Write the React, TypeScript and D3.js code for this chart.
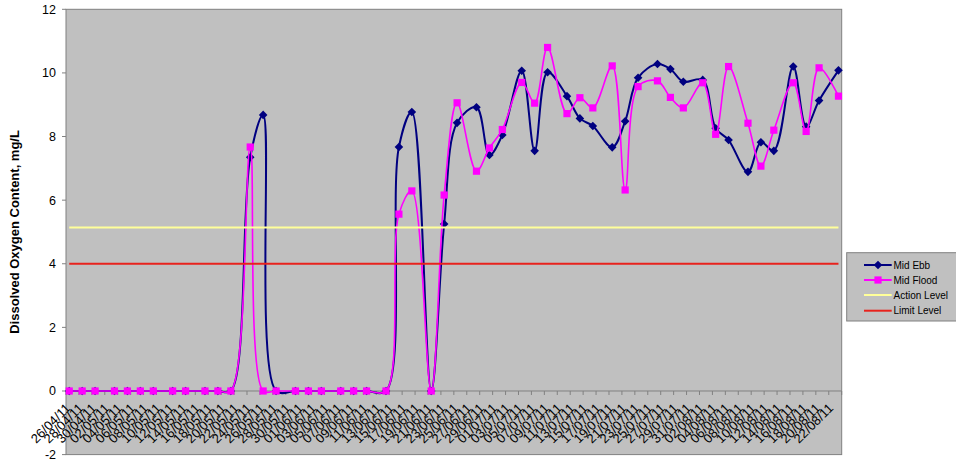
import React from 'react';
import * as d3 from 'd3';

const dates = [
  "26/04/11","28/04/11","30/04/11","03/05/11","05/05/11","07/05/11","09/05/11","12/05/11","14/05/11","17/05/11","19/05/11","21/05/11",
  "24/05/11","26/05/11","28/05/11","31/05/11","02/06/11","04/06/11","07/06/11","09/06/11","11/06/11","14/06/11",
  "16/06/11","18/06/11","21/06/11","23/06/11","25/06/11","28/06/11","30/06/11","02/07/11",
  "05/07/11","07/07/11","09/07/11","12/07/11","14/07/11","16/07/11","19/07/11","21/07/11","23/07/11",
  "26/07/11","28/07/11","30/07/11","02/08/11","04/08/11","06/08/11","09/08/11","11/08/11","13/08/11",
  "16/08/11","18/08/11","20/08/11","23/08/11"
];

const midEbb = [
  0,0,0,0,0,0,0,0,0,0,0,0,
  7.35,8.68,0,0,0,0,0,0,0,0,
  7.67,8.77,0,5.25,8.43,8.92,7.42,8.05,
  10.07,7.55,10.02,9.27,8.57,8.33,7.66,8.48,9.85,
  10.28,10.12,9.72,9.78,8.26,7.89,6.89,7.82,7.55,
  10.2,8.31,9.13,10.08
];

const midFlood = [
  0,0,0,0,0,0,0,0,0,0,0,0,
  7.67,0,0,0,0,0,0,0,0,0,
  5.56,6.29,0,6.16,9.06,6.91,7.64,8.22,
  9.70,9.05,10.80,8.72,9.22,8.90,10.22,6.32,9.57,
  9.75,9.23,8.90,9.69,8.07,10.2,8.42,7.07,8.2,
  9.69,8.16,10.16,9.27
];

const actionLevel = 5.14;
const limitLevel = 4;

const yTicks = [-2, 0, 2, 4, 6, 8, 10, 12];
const legendLabels = ["Mid Ebb", "Mid Flood", "Action Level", "Limit Level"];
const yTitle = "Dissolved Oxygen Content, mg/L";

const FONT = "'Liberation Sans', Arial, sans-serif";

export default function App() {
  const W = 956, H = 460;
  const left = 66, right = 841.7, top = 9.3, bottom = 454.6;
  const parse = d3.utcParse("%d/%m/%y");
  const fmt = d3.utcFormat("%d/%m/%y");
  const dts = dates.map(s => parse(s) as Date);
  const first = dts[0];
  const last = dts[dts.length - 1];
  const halfDay = 12 * 3600 * 1000;
  const x = d3.scaleUtc()
    .domain([new Date(+first - halfDay), new Date(+last + halfDay)])
    .range([left, right]);
  const y = d3.scaleLinear().domain([-2, 12]).range([bottom, top]);

  const labelDays = d3.utcDay.range(first, new Date(+last + 1), 2);
  const tickTimes = d3.range(0, labelDays.length + 1).map(i => new Date(+first - halfDay + i * 4 * halfDay));

  const ebbData = dts.map((d, i) => ({ d, v: midEbb[i] }));
  const floodData = dts.map((d, i) => ({ d, v: midFlood[i] }));
  const line = d3.line<{ d: Date; v: number }>()
    .x(p => x(p.d)).y(p => y(p.v))
    .curve(d3.curveCatmullRom.alpha(0.5));

  const y0 = y(0);
  const navy = "#000080";
  const magenta = "#FF00FF";
  const yellow = "#FFFF99";
  const red = "#E8221C";

  const diamond = (cx: number, cy: number, r: number) =>
    `M${cx},${cy - r}L${cx + r},${cy}L${cx},${cy + r}L${cx - r},${cy}Z`;

  const legY = [265, 280, 295, 310.7];
  const legColors = [navy, magenta, yellow, red];

  return (
    <svg width={W} height={H} style={{ position: 'absolute', left: 0, top: 0, background: '#fff' }} fontFamily={FONT}>
      <rect x={0} y={0} width={W} height={H} fill="#fff" />
      <rect x={left} y={top} width={right - left} height={bottom - top} fill="#C0C0C0" stroke="#808080" strokeWidth={1} />

      {yTicks.map(t => (
        <g key={t}>
          <line x1={left - 4} x2={left} y1={y(t)} y2={y(t)} stroke="#808080" />
          <text x={56} y={y(t)} dy="0.35em" textAnchor="end" fontSize={12.5} fill="#000">{t}</text>
        </g>
      ))}
      <text transform={`translate(19,${(top + bottom) / 2}) rotate(-90)`} textAnchor="middle" fontSize={13} fontWeight="bold" fill="#000">{yTitle}</text>

      <line x1={left} x2={right} y1={y0} y2={y0} stroke="#808080" />
      {tickTimes.map((t, i) => (
        <line key={i} x1={x(t)} x2={x(t)} y1={y0} y2={y0 + 4} stroke="#808080" />
      ))}
      {labelDays.map((d, i) => (
        <text key={i} transform={`translate(${x(d) + 2},${y0 + 18}) rotate(-45)`} textAnchor="end" fontSize={13} fill="#000">{fmt(d)}</text>
      ))}

      <path d={line(ebbData) || ""} fill="none" stroke={navy} strokeWidth={2} />
      {ebbData.map((p, i) => (
        <path key={i} d={diamond(x(p.d), y(p.v), 4.3)} fill={navy} />
      ))}
      <path d={line(floodData) || ""} fill="none" stroke={magenta} strokeWidth={1.6} />
      {floodData.map((p, i) => (
        <rect key={i} x={x(p.d) - 3.6} y={y(p.v) - 3.6} width={7.2} height={7.2} fill={magenta} />
      ))}

      <line x1={x(first)} x2={x(last)} y1={y(actionLevel)} y2={y(actionLevel)} stroke={yellow} strokeWidth={2} />
      <line x1={x(first)} x2={x(last)} y1={y(limitLevel)} y2={y(limitLevel)} stroke={red} strokeWidth={2} />

      <rect x={846.7} y={252.7} width={W - 846.7 + 2} height={68.3} fill="#C0C0C0" stroke="#808080" />
      {legendLabels.map((lab, i) => (
        <g key={lab}>
          <line x1={864} x2={891.7} y1={legY[i]} y2={legY[i]} stroke={legColors[i]} strokeWidth={2} />
          {i === 0 && <path d={diamond(878, legY[i], 4.3)} fill={navy} />}
          {i === 1 && <rect x={878 - 3.6} y={legY[i] - 3.6} width={7.2} height={7.2} fill={magenta} />}
          <text x={893.5} y={legY[i]} dy="0.35em" fontSize={10} fill="#000">{lab}</text>
        </g>
      ))}
    </svg>
  );
}
